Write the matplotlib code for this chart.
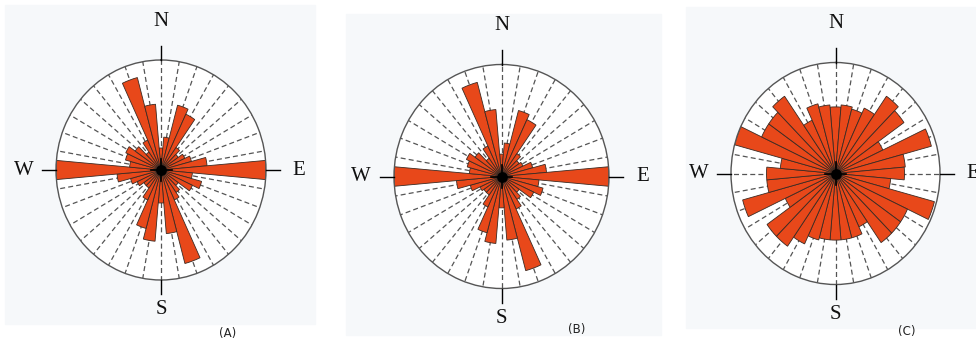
import numpy as np
import matplotlib
matplotlib.use('Agg')
from matplotlib import pyplot as plt
from matplotlib.patches import Rectangle

# bin centres, degrees clockwise from north
angles = np.arange(0, 360, 10)

# relative bar lengths (1 = outer circle)
rose_a = [0.2, 0.3, 0.61, 0.56, 0.25, 0.2, 0.25, 0.3, 0.44, 1.0, 0.3, 0.4,
          0.33, 0.2, 0.25, 0.3, 0.88, 0.58, 0.3, 0.65, 0.55, 0.3, 0.2, 0.2,
          0.25, 0.3, 0.42, 1.0, 0.3, 0.35, 0.37, 0.3, 0.2, 0.3, 0.87, 0.6]
rose_b = [0.2, 0.3, 0.61, 0.56, 0.25, 0.2, 0.22, 0.3, 0.42, 1.0, 0.35, 0.4,
          0.33, 0.2, 0.25, 0.32, 0.87, 0.57, 0.28, 0.6, 0.52, 0.3, 0.2, 0.2,
          0.22, 0.3, 0.42, 1.0, 0.3, 0.33, 0.36, 0.3, 0.2, 0.3, 0.87, 0.6]
rose_c = [0.6, 0.62, 0.6, 0.65, 0.85, 0.8, 0.5, 0.95, 0.67, 0.66, 0.53, 0.98,
          0.76, 0.76, 0.76, 0.53, 0.6, 0.6, 0.6, 0.6, 0.62, 0.7, 0.8, 0.8,
          0.53, 0.92, 0.66, 0.66, 0.53, 1.0, 0.78, 0.78, 0.85, 0.53, 0.65, 0.62]

panel_labels = ['(A)', '(B)', '(C)']
compass = ['N', 'E', 'S', 'W']

W, H = 976, 345
BAR_COLOR = '#e8481a'
BG = '#f6f8fa'

# pixel layout: background box, circle centre, radii, label position
PANELS = [
    dict(bg=(5, 5, 315, 324), c=(161, 170), rx=105, ry=110, lab=(228, 333)),
    dict(bg=(346, 14, 661, 335), c=(501.5, 176.5), rx=107.5, ry=112, lab=(577, 329)),
    dict(bg=(686, 7, 976, 328), c=(835.5, 173.5), rx=104.5, ry=111, lab=(907, 331)),
]
LABEL_R = [1.35, 1.31, 1.27, 1.31]


def rose(fig, p, values, label):
    x0, y0, x1, y1 = p['bg']
    fig.patches.append(Rectangle((x0 / W, 1 - y1 / H), (x1 - x0) / W, (y1 - y0) / H,
                                 transform=fig.transFigure, color=BG, zorder=-10))
    cx, cy = p['c']
    rx, ry = p['rx'], p['ry']
    ax = fig.add_axes([(cx - rx) / W, 1 - (cy + ry) / H, 2 * rx / W, 2 * ry / H],
                      projection='polar')
    ax.set_aspect('auto')
    ax.set_theta_zero_location('N')
    ax.set_theta_direction(-1)
    ax.set_ylim(0, 1)
    ax.set_facecolor('white')
    ax.grid(False)
    ax.set_xticks([])
    ax.set_yticks([])
    ax.spines['polar'].set_color('#555555')
    ax.spines['polar'].set_linewidth(1.0)

    th = np.deg2rad(angles)
    for t in th:
        ax.plot([t, t], [0, 1], color='#555555', lw=0.9, dashes=(4, 2.5), zorder=1)

    ax.bar(th, values, width=np.deg2rad(10), bottom=0, color=BAR_COLOR,
           edgecolor='#3b2a22', linewidth=0.6, zorder=2)

    for t in np.deg2rad([0, 90, 180, 270]):
        ax.plot([t, t], [1, 1.13], color='black', lw=1, clip_on=False, zorder=3)
        ax.plot([t, t], [0, 0.1], color='black', lw=1.2, zorder=3)
    ax.scatter([0], [0], s=45, c='black', zorder=4)

    for t, s, r in zip([0, 90, 180, 270], compass, LABEL_R):
        ax.text(np.deg2rad(t), r, s, ha='center', va='center', fontsize=15,
                family='Liberation Serif', color='#111111', clip_on=False)

    fig.text(p['lab'][0] / W, 1 - p['lab'][1] / H, label, ha='center', va='center',
             fontsize=8.5, family='DejaVu Sans', color='#222222')
    return ax


fig = plt.figure(figsize=(W / 100, H / 100), dpi=100)
fig.patch.set_facecolor('white')
for p, vals, lab in zip(PANELS, [rose_a, rose_b, rose_c], panel_labels):
    rose(fig, p, vals, lab)

fig.savefig('out.png', dpi=100)
